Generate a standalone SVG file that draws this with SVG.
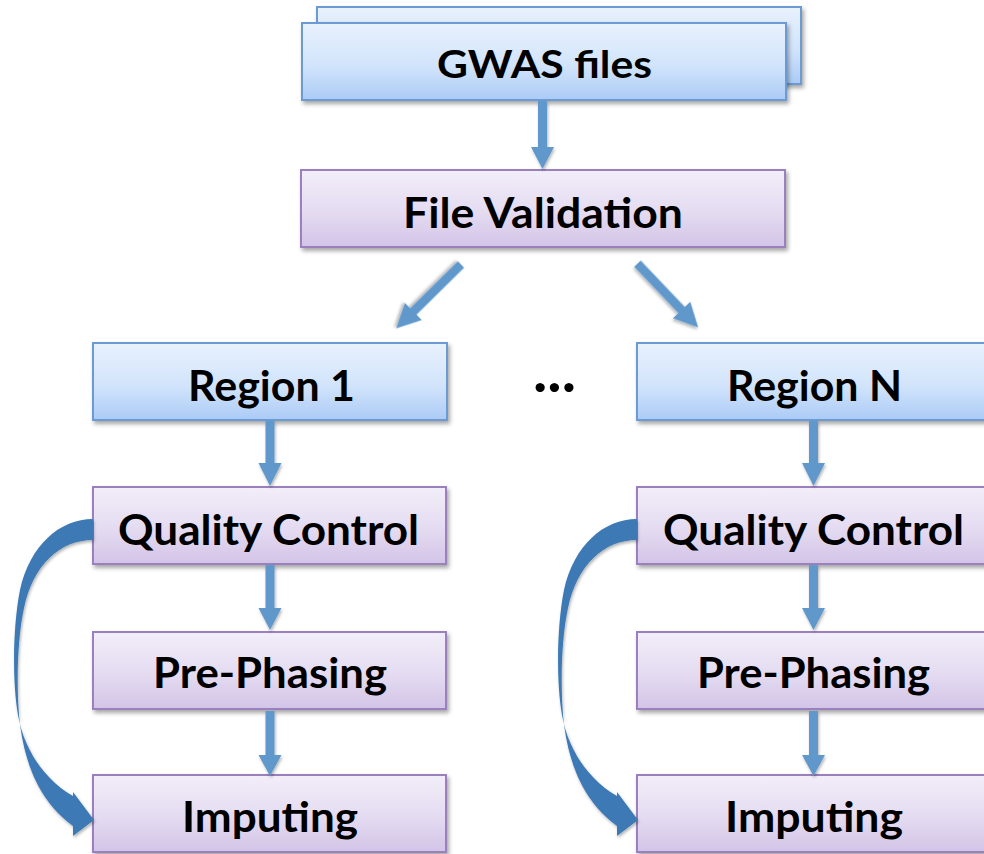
<svg xmlns="http://www.w3.org/2000/svg" width="984" height="854" viewBox="0 0 984 854">
<defs>
<linearGradient id="gBlue" x1="0" y1="0" x2="0" y2="1">
<stop offset="0" stop-color="#e8f1fd"/><stop offset="0.55" stop-color="#d2e4fb"/><stop offset="1" stop-color="#abcbf6"/>
</linearGradient>
<linearGradient id="gPurple" x1="0" y1="0" x2="0" y2="1">
<stop offset="0" stop-color="#f2eef9"/><stop offset="0.55" stop-color="#e4dbf1"/><stop offset="1" stop-color="#d3c4e7"/>
</linearGradient>
<filter id="sh" x="-10%" y="-20%" width="120%" height="150%">
<feDropShadow dx="2" dy="3" stdDeviation="2" flood-color="#000" flood-opacity="0.35"/>
</filter>
<filter id="sh2" x="-20%" y="-20%" width="140%" height="140%">
<feDropShadow dx="1" dy="2" stdDeviation="1.5" flood-color="#000" flood-opacity="0.3"/>
</filter>
</defs>
<style>
.blue{fill:url(#gBlue);stroke:#6c9ad3;stroke-width:2;filter:url(#sh)}
.purple{fill:url(#gPurple);stroke:#9a80bd;stroke-width:2;filter:url(#sh)}
.t{font-family:Lato,"Open Sans","Liberation Sans",sans-serif;font-weight:700;font-size:42px;fill:#000;text-anchor:middle}
.arr{fill:#6098cc;filter:url(#sh2)}
.curve{fill:#3c79b4;filter:url(#sh2)}
</style>
<rect width="984" height="854" fill="#fff"/>

<g id="gwas">
<rect class="blue" x="317" y="7" width="484" height="77"/>
<rect class="blue" x="302" y="23" width="484" height="77"/>
<text class="t" x="544.5" y="78" style="font-size:38px" textLength="215" lengthAdjust="spacingAndGlyphs">GWAS files</text>
</g>

<g id="validation">
<rect class="purple" x="301" y="170" width="484" height="77"/>
<text class="t" x="543" y="228" textLength="280" lengthAdjust="spacingAndGlyphs">File Validation</text>
</g>

<g id="region1">
<rect class="blue" x="93" y="343" width="354" height="77"/>
<text class="t" x="271.5" y="401" textLength="167" lengthAdjust="spacingAndGlyphs">Region 1</text>
</g>

<g id="dots">
<text class="t" x="554.5" y="392" style="font-size:60px" textLength="43" lengthAdjust="spacingAndGlyphs">...</text>
</g>

<g id="regionN">
<rect class="blue" x="637" y="343" width="354" height="77"/>
<text class="t" x="814.5" y="401" textLength="175" lengthAdjust="spacingAndGlyphs">Region N</text>
</g>

<g id="qc1">
<rect class="purple" x="93" y="487" width="353" height="77"/>
<text class="t" x="268.5" y="545" textLength="301" lengthAdjust="spacingAndGlyphs">Quality Control</text>
</g>
<g id="pp1">
<rect class="purple" x="93" y="632" width="353" height="77"/>
<text class="t" x="270" y="688" textLength="234" lengthAdjust="spacingAndGlyphs">Pre-Phasing</text>
</g>
<g id="imp1">
<rect class="purple" x="93" y="775" width="353" height="77"/>
<text class="t" x="270" y="832" textLength="176" lengthAdjust="spacingAndGlyphs">Imputing</text>
</g>

<g id="qcN">
<rect class="purple" x="637" y="487" width="354" height="77"/>
<text class="t" x="813.5" y="545" textLength="301" lengthAdjust="spacingAndGlyphs">Quality Control</text>
</g>
<g id="ppN">
<rect class="purple" x="637" y="632" width="354" height="77"/>
<text class="t" x="813.5" y="688" textLength="233" lengthAdjust="spacingAndGlyphs">Pre-Phasing</text>
</g>
<g id="impN">
<rect class="purple" x="637" y="775" width="354" height="77"/>
<text class="t" x="814" y="832" textLength="178" lengthAdjust="spacingAndGlyphs">Imputing</text>
</g>

<g id="connectors">
<polygon class="arr" points="538,101 547,101 547,147 554,147 542.5,169 531,147 538,147"/>
<g transform="translate(461,264.5) rotate(135.4)">
<polygon class="arr" points="0,-4.5 67,-4.5 67,-12 91,0 67,12 67,4.5 0,4.5"/>
</g>
<g transform="translate(637.5,263.7) rotate(46.4)">
<polygon class="arr" points="0,-4.5 64,-4.5 64,-12 88,0 64,12 64,4.5 0,4.5"/>
</g>
<polygon class="arr" points="265.5,421 274.5,421 274.5,463 281.5,463 270,486 258.5,463 265.5,463"/>
<polygon class="arr" points="265.5,565 274.5,565 274.5,608 281.5,608 270,630 258.5,608 265.5,608"/>
<polygon class="arr" points="265.5,711 274.5,711 274.5,755 281.5,755 270,776 258.5,755 265.5,755"/>
<polygon class="arr" points="809,421 818,421 818,463 825,463 813.5,486 802,463 809,463"/>
<polygon class="arr" points="809,565 818,565 818,608 825,608 813.5,630 802,608 809,608"/>
<polygon class="arr" points="809,711 818,711 818,755 825,755 813.5,776 802,755 809,755"/>
<path class="curve" d="M93,519 C60,519 30,545 20,590 C13,625 12,680 18,715 C24,750 45,780 73,796 L73,792 L94,820 L73,836 L73,826 C45,805 27,775 20,725 C16,690 17,640 24,608 C33,565 60,540 93,540 Z"/>
<path class="curve" transform="translate(544,0)" d="M93,519 C60,519 30,545 20,590 C13,625 12,680 18,715 C24,750 45,780 73,796 L73,792 L94,820 L73,836 L73,826 C45,805 27,775 20,725 C16,690 17,640 24,608 C33,565 60,540 93,540 Z"/>
</g>
</svg>
